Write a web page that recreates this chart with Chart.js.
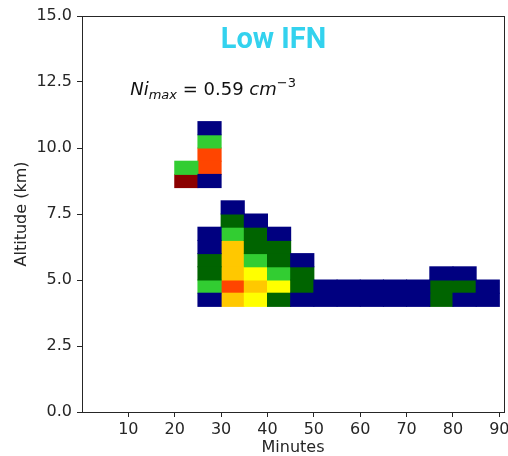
<!DOCTYPE html>
<html>
<head>
<meta charset="utf-8">
<script src="https://cdn.jsdelivr.net/npm/chart.js@4.4.1/dist/chart.umd.min.js"></script>
<style>
  html, body { margin: 0; padding: 0; background: #fff; }
</style>
</head>
<body>
<canvas id="grafico" width="508" height="456"></canvas>
<script>
// celle: minuto di inizio, quota di base (km), livello di colore
const cellMin = [20, 20,
  25, 25, 25, 25, 25,
  25, 25, 25, 25, 25, 25,
  30, 30, 30, 30, 30, 30, 30, 30,
  35, 35, 35, 35, 35, 35, 35,
  40, 40, 40, 40, 40, 40,
  45, 45, 45, 45,
  50, 50, 55, 55, 60, 60, 65, 65, 70, 70,
  75, 75, 75,
  80, 80, 80,
  85, 85];
const cellAlt = [9.0, 8.5,
  10.5, 10.0, 9.5, 9.0, 8.5,
  6.5, 6.0, 5.5, 5.0, 4.5, 4.0,
  7.5, 7.0, 6.5, 6.0, 5.5, 5.0, 4.5, 4.0,
  7.0, 6.5, 6.0, 5.5, 5.0, 4.5, 4.0,
  6.5, 6.0, 5.5, 5.0, 4.5, 4.0,
  5.5, 5.0, 4.5, 4.0,
  4.5, 4.0, 4.5, 4.0, 4.5, 4.0, 4.5, 4.0, 4.5, 4.0,
  5.0, 4.5, 4.0,
  5.0, 4.5, 4.0,
  4.5, 4.0];
const cellLevel = [2, 6,
  0, 2, 5, 5, 0,
  0, 0, 1, 1, 2, 0,
  0, 1, 2, 4, 4, 4, 5, 4,
  0, 1, 1, 2, 3, 4, 3,
  0, 1, 1, 2, 3, 1,
  0, 1, 1, 0,
  0, 0, 0, 0, 0, 0, 0, 0, 0, 0,
  0, 1, 1,
  0, 1, 0,
  0, 0];
const cellWidth = 5;     // minuti
const cellHeight = 0.5;  // km

const levelColors = ['#000080', '#006400', '#32cd32', '#ffff00', '#ffc800', '#ff4500', '#8b0000'];

const xTicks = [10, 20, 30, 40, 50, 60, 70, 80, 90];
const yTicks = [0, 2.5, 5, 7.5, 10, 12.5, 15];

const titleText = 'Low IFN';
const titlePos = [41.3, 14.05];
const noteParts = ['Ni', 'max', ' = 0.59 ', 'cm', '\u22123'];
const notePos = [10.4, 12.0];

// dataset per ogni livello
const datasets = levelColors.map((col, lv) => {
  const pts = [];
  for (let i = 0; i < cellMin.length; i++) {
    if (cellLevel[i] !== lv) continue;
    pts.push({ x: cellMin[i] + cellWidth / 2, y: [cellAlt[i], cellAlt[i] + cellHeight] });
  }
  return {
    label: 'livello ' + lv,
    data: pts,
    backgroundColor: col,
    borderWidth: 0,
    inflateAmount: 0.5,
    grouped: false,
    barPercentage: 1,
    categoryPercentage: 1,
    xAxisID: 'x',
    yAxisID: 'y'
  };
});

const axisFont = { family: 'DejaVu Sans', size: 16 };
const axisCol = '#262626';

const testi = {
  id: 'testi',
  afterDraw(chart) {
    const ctx = chart.ctx, xs = chart.scales.x, ys = chart.scales.y;
    ctx.save();
    ctx.font = 'bold 29px Roboto';
    ctx.fillStyle = '#33d2ee';
    ctx.textAlign = 'center';
    ctx.textBaseline = 'middle';
    ctx.fillText(titleText, xs.getPixelForValue(titlePos[0]), ys.getPixelForValue(titlePos[1]));

    // Ni_max = 0.59 cm^-3
    const fonts = ['italic 18px "DejaVu Sans"', 'italic 13px "DejaVu Sans"', '18px "DejaVu Sans"', 'italic 18px "DejaVu Sans"', '13px "DejaVu Sans"'];
    const dys = [0, 4, 0, 0, -8];
    let x = xs.getPixelForValue(notePos[0]);
    const y = ys.getPixelForValue(notePos[1]);
    ctx.textAlign = 'left';
    ctx.textBaseline = 'alphabetic';
    ctx.fillStyle = '#111';
    for (let i = 0; i < noteParts.length; i++) {
      ctx.font = fonts[i];
      ctx.fillText(noteParts[i], x, y + dys[i]);
      x += ctx.measureText(noteParts[i]).width;
    }
    ctx.restore();
  }
};

new Chart(document.getElementById('grafico'), {
  type: 'bar',
  data: { datasets: datasets },
  plugins: [testi],
  options: {
    responsive: false,
    animation: false,
    layout: { padding: { top: 16, right: 4, left: 0, bottom: 0 } },
    plugins: { legend: { display: false }, tooltip: { enabled: false } },
    scales: {
      x: {
        type: 'linear', position: 'bottom', min: 0, max: 91, offset: false,
        grid: { drawOnChartArea: false, drawTicks: true, tickLength: 5, color: axisCol, offset: false },
        border: { display: true, color: axisCol, width: 1 },
        ticks: { font: axisFont, color: axisCol, padding: 3, maxRotation: 0, autoSkip: false },
        title: { display: true, text: 'Minutes', color: axisCol, font: { family: 'DejaVu Sans', size: 16, lineHeight: 1 }, padding: { top: 0, bottom: 0 } },
        afterBuildTicks: s => { s.ticks = xTicks.map(v => ({ value: v })); },
        afterFit: s => { s.height = 44; s.paddingLeft = 0; s.paddingRight = 0; }
      },
      y: {
        type: 'linear', position: 'left', min: 0, max: 15,
        grid: { drawOnChartArea: false, drawTicks: true, tickLength: 5, color: axisCol },
        border: { display: true, color: axisCol, width: 1 },
        ticks: { font: axisFont, color: axisCol, padding: 5, callback: v => v.toFixed(1) },
        title: { display: true, text: 'Altitude (km)', color: axisCol, font: { family: 'DejaVu Sans', size: 16 }, padding: { top: 12, bottom: 0 } },
        afterBuildTicks: s => { s.ticks = yTicks.map(v => ({ value: v })); },
        afterFit: s => { s.width = 82; s.paddingTop = 0; s.paddingBottom = 0; }
      },
      x2: {
        type: 'linear', position: 'top', min: 0, max: 91, display: true,
        grid: { display: false }, ticks: { display: false },
        border: { display: true, color: axisCol, width: 1 },
        afterFit: s => { s.height = 0; }
      },
      y2: {
        type: 'linear', position: 'right', min: 0, max: 15, display: true,
        grid: { display: false }, ticks: { display: false },
        border: { display: true, color: axisCol, width: 1 },
        afterFit: s => { s.width = 0; }
      }
    }
  }
});
</script>
</body>
</html>
